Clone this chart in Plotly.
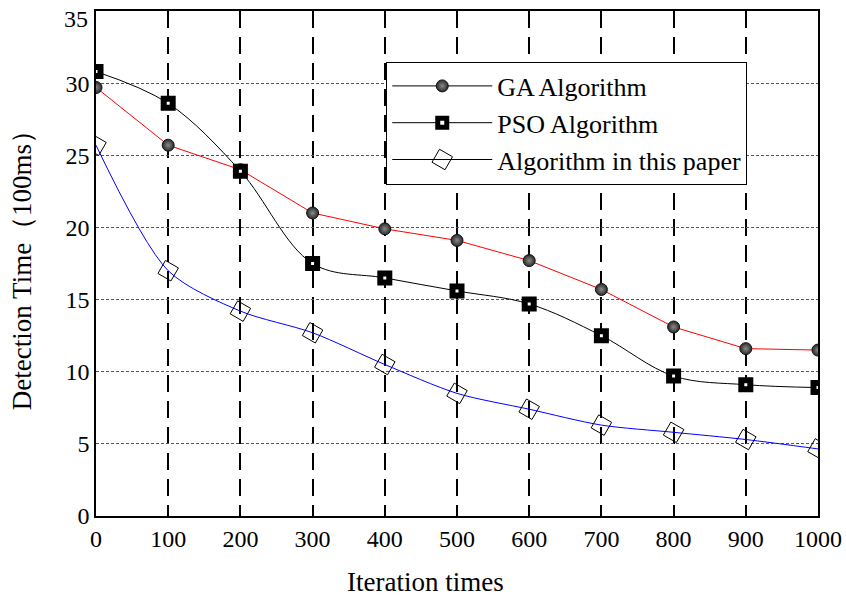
import plotly.graph_objects as go

iterations = [0, 100, 200, 300, 400, 500, 600, 700, 800, 900, 1000]
ga_values = [29.7, 25.7, 24.0, 21.0, 19.9, 19.1, 17.7, 15.7, 13.1, 11.6, 11.5]
pso_values = [30.8, 28.6, 23.9, 17.5, 16.5, 15.6, 14.7, 12.5, 9.7, 9.1, 8.9]
ours_values = [25.7, 17.0, 14.2, 12.7, 10.5, 8.5, 7.4, 6.3, 5.8, 5.3, 4.65]

series_names = ["GA Algorithm", "PSO Algorithm", "Algorithm in this paper"]
x_ticks = [0, 100, 200, 300, 400, 500, 600, 700, 800, 900, 1000]
y_ticks = [0, 5, 10, 15, 20, 25, 30, 35]
x_title = "Iteration times"
y_title = "Detection Time（100ms）"

FONT = "Liberation Serif, Times New Roman, serif"

markers = [
    dict(symbol="circle", size=12, color="#2a2a2a",
         gradient=dict(type="radial", color="#8a8a8a"),
         line=dict(color="#111111", width=1)),
    dict(symbol="square", size=9, color="white",
         line=dict(color="black", width=6)),
    dict(symbol="square-open", size=15, color="black", angle=30,
         line=dict(color="black", width=1)),
]
lines = [
    dict(color="red", width=1),
    dict(color="black", width=1, shape="spline", smoothing=1.0),
    dict(color="blue", width=1, shape="spline", smoothing=0.8),
]
values = [ga_values, pso_values, ours_values]

fig = go.Figure()
for name, vals, mk, ln in zip(series_names, values, markers, lines):
    fig.add_trace(go.Scatter(
        x=iterations, y=vals, name=name, mode="lines+markers",
        line=ln, marker=mk, showlegend=False,
    ))
# legend entries (black line with the series marker, as in the reference)
for name, mk in zip(series_names, markers):
    fig.add_trace(go.Scatter(
        x=[None], y=[None], name=name, mode="lines+markers",
        line=dict(color="black", width=1), marker=mk,
        showlegend=True,
    ))

# the top y label sits a little below its gridline in the reference
top_label = y_ticks[-1]
y_ticktext = [str(v) for v in y_ticks[:-1]] + [""]

fig.update_layout(
    width=846, height=600,
    margin=dict(l=96, r=28, t=11, b=84),
    paper_bgcolor="white", plot_bgcolor="white",
    font=dict(family=FONT, size=24, color="black"),
    legend=dict(
        x=0.402, y=0.90, xanchor="left", yanchor="top",
        bgcolor="white", bordercolor="black", borderwidth=1,
        font=dict(family=FONT, size=26, color="black"),
        itemwidth=100,
    ),
    annotations=[
        dict(text=str(top_label), x=0, y=top_label, xref="paper", yref="y",
             xanchor="right", yanchor="middle", xshift=-6, yshift=-8,
             showarrow=False, font=dict(family=FONT, size=24, color="black")),
        dict(text=x_title, x=0.456, y=-0.1644, xref="paper", yref="paper",
             xanchor="center", yanchor="bottom", showarrow=False,
             font=dict(family=FONT, size=27, color="black")),
    ],
)
fig.update_xaxes(
    range=[0, 1000], tickvals=x_ticks, ticktext=[str(v) for v in x_ticks],
    showline=True, linecolor="black", linewidth=1.5, mirror=True,
    showgrid=True, gridcolor="black", gridwidth=2, griddash="17px,9px",
    zeroline=False, ticks="", ticklen=0, automargin=False,
    ticklabeloverflow="allow",
    tickfont=dict(family=FONT, size=24),
)
fig.update_yaxes(
    range=[0, 35], tickvals=y_ticks, ticktext=y_ticktext,
    showline=True, linecolor="black", linewidth=1.5, mirror=True,
    showgrid=True, gridcolor="#555555", gridwidth=1, griddash="3px,2px",
    zeroline=False, ticks="", ticklen=0, automargin=False,
    ticklabeloverflow="allow",
    tickfont=dict(family=FONT, size=24),
    title=dict(text=y_title, font=dict(family=FONT, size=27), standoff=26),
)

fig.write_html(
    "out.html",
    config={"displayModeBar": False},
    post_script="document.body.style.margin='0';document.body.style.overflow='hidden';",
)
